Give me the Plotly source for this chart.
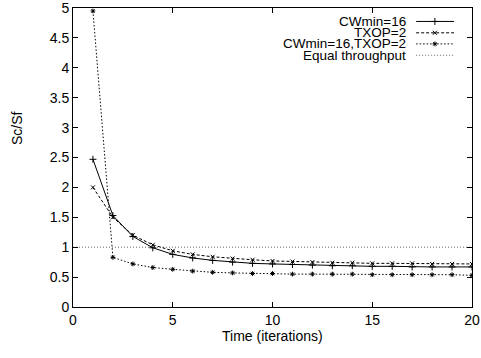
import plotly.graph_objects as go

iterations = list(range(1, 21))
cwmin16 = [2.47, 1.53, 1.18, 0.99, 0.88, 0.82, 0.78, 0.75, 0.73, 0.72,
           0.71, 0.70, 0.69, 0.69, 0.68, 0.68, 0.67, 0.67, 0.67, 0.67]
txop2 = [2.0, 1.5, 1.2, 1.04, 0.94, 0.88, 0.84, 0.81, 0.79, 0.77,
         0.76, 0.75, 0.74, 0.74, 0.73, 0.73, 0.73, 0.72, 0.72, 0.72]
cw_txop = [4.95, 0.83, 0.72, 0.66, 0.63, 0.60, 0.58, 0.57, 0.56, 0.56,
           0.55, 0.55, 0.55, 0.55, 0.54, 0.54, 0.54, 0.54, 0.54, 0.53]
equal_x = [0, 20]
equal_y = [1, 1]

names = ["CWmin=16", "TXOP=2", "CWmin=16,TXOP=2", "Equal throughput"]
FONT = "Liberation Sans, Arial, sans-serif"
FS = 14
KEY_FS = 13.5

styles = [
    dict(dash="solid", width=1, symbol="cross-thin", size=5),
    dict(dash="3px,2px", width=1, symbol="x-thin", size=4),
    dict(dash="1.5px,2px", width=1, symbol="asterisk", size=4),
    dict(dash="1px,2px", width=0.6, symbol=None, size=0),
]

fig = go.Figure()
series = [cwmin16, txop2, cw_txop]
for ys, st, nm in zip(series, styles, names):
    fig.add_trace(go.Scatter(
        x=iterations, y=ys, mode="lines+markers", name=nm, showlegend=False,
        line=dict(color="black", width=st["width"], dash=st["dash"]),
        marker=dict(symbol=st["symbol"], size=st["size"], color="black",
                    line=dict(color="black", width=1)),
    ))
fig.add_trace(go.Scatter(
    x=equal_x, y=equal_y, mode="lines", name=names[3], showlegend=False,
    line=dict(color="black", width=styles[3]["width"], dash=styles[3]["dash"]),
))

# gnuplot-style key (text right-aligned, sample after it) on an overlay axis
key_rows = [0.955, 0.917, 0.880, 0.842]
for nm, st, ky in zip(names, styles, key_rows):
    fig.add_trace(go.Scatter(
        x=[0.860, 0.955], y=[ky, ky], xaxis="x2", yaxis="y2", mode="lines",
        showlegend=False, hoverinfo="skip",
        line=dict(color="black", width=st["width"], dash=st["dash"]),
    ))
    if st["symbol"]:
        fig.add_trace(go.Scatter(
            x=[0.907], y=[ky], xaxis="x2", yaxis="y2", mode="markers",
            showlegend=False, hoverinfo="skip",
            marker=dict(symbol=st["symbol"], size=st["size"], color="black",
                        line=dict(color="black", width=1)),
        ))
    fig.add_annotation(x=0.837, y=ky, xref="x2", yref="y2", text=nm,
                       showarrow=False, xanchor="right", yanchor="middle",
                       borderpad=0,
                       font=dict(family=FONT, size=KEY_FS, color="black"))

axis_common = dict(
    showgrid=False, zeroline=False, showline=True, linecolor="black",
    linewidth=1, mirror="allticks", ticks="inside", ticklen=5,
    tickcolor="black", tickwidth=1, automargin=False,
    ticklabeloverflow="allow",
    tickfont=dict(family=FONT, size=FS, color="black"),
)

fig.update_layout(
    width=481, height=358,
    margin=dict(l=73, r=9, t=8, b=51, autoexpand=False),
    paper_bgcolor="white", plot_bgcolor="white",
    showlegend=False,
    xaxis=dict(range=[0, 20], tickvals=[0, 5, 10, 15, 20], **axis_common),
    yaxis=dict(range=[0, 5], tickvals=[0, 0.5, 1, 1.5, 2, 2.5, 3, 3.5, 4, 4.5, 5],
               ticktext=["0", "0.5", "1", "1.5", "2", "2.5", "3", "3.5", "4", "4.5", "5"],
               **axis_common),
    xaxis2=dict(range=[0, 1], overlaying="x", visible=False, fixedrange=True),
    yaxis2=dict(range=[0, 1], overlaying="y", visible=False, fixedrange=True),
)

fig.add_annotation(text="Time (iterations)", xref="paper", yref="paper",
                   x=0.5, y=-0.097, xanchor="center", yanchor="middle",
                   showarrow=False, font=dict(family=FONT, size=FS, color="black"))
fig.add_annotation(text="Sc/Sf", xref="paper", yref="paper",
                   x=-0.14, y=0.599, xanchor="center", yanchor="middle",
                   textangle=-90, showarrow=False,
                   font=dict(family=FONT, size=FS, color="black"))

fig.write_html("out.html")
